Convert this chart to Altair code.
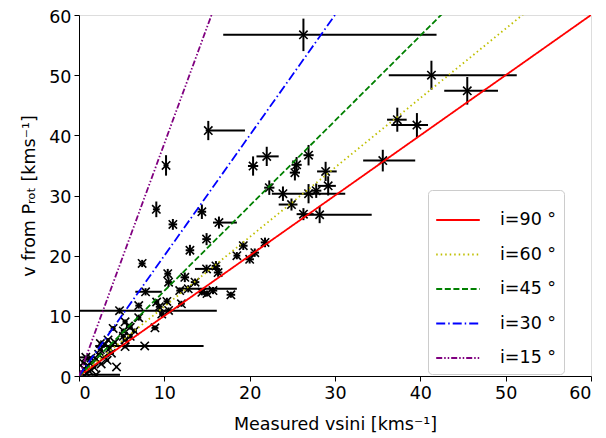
import altair as alt
import pandas as pd

# Measured v sin i (km/s) and v from P_rot (km/s), with errors
vsini = [26.3, 15.15, 10.2, 41.3, 45.5, 37.3, 39.6, 35.6, 20.4, 22.0,
         25.5, 25.3, 26.9, 22.3, 23.9, 26.9, 27.8, 28.9, 29.2, 24.9,
         26.3, 28.2, 9.06, 11.0, 14.4, 16.4, 14.95, 13.0, 7.4, 19.25,
         20.0, 18.5, 20.6, 21.8, 10.4, 10.5, 14.95, 16.05, 16.3, 12.4,
         13.6, 12.8, 14.4, 15.7, 17.8, 7.8, 7.0, 10.3, 9.4, 12.0,
         4.75, 10.5, 7.0, 5.4, 8.9, 4.0, 5.2, 6.0, 5.4, 7.7,
         5.4, 2.5, 3.8, 4.4, 0.8, 2.0, 0.3, 0.6, 1.0, 1.5,
         2.0, 1.2, 2.6, 3.0, 0.5, 1.8, 2.3, 3.3, 1.4, 3.6,
         0.9, 4.2, 3.0, 6.5, 5.8, 9.1, 9.7, 11.8, 15.0, 6.0,
         5.2, 3.4, 2.5]
vsini_err_lo = [9.4, 0.3, 0.3, 5.0, 2.7, 1.2, 3.0, 2.3, 0.6, 1.2,
                0.6, 0.6, 0.6, 0.6, 1.3, 0.6, 0.6, 1.0, 1.2, 1.5,
                0.8, 1.7, 0.4, 0.5, 0.5, 0.7, 0.5, 0.5, 0.4, 0.5,
                0.5, 0.4, 0.5, 0.5, 0.4, 0.4, 1.35, 0.5, 0.5, 0.5,
                0.5, 1.2, 0.4, 0.5, 0.5, 1.2, 0.4, 0.4, 0.4, 0.4,
                4.65, 0.4, 0.3, 0.3, 0.4, 0.3, 0.3, 0.3, 0.3, 5.8,
                0.3, 0.3, 0.3, 0.1, 0.8, 2.0, 0.2, 0.2, 0.2, 0.2,
                0.2, 0.2, 0.2, 0.2, 0.2, 0.2, 0.2, 0.2, 0.2, 0.2,
                0.2, 0.2, 0.2, 0.3, 0.3, 0.3, 0.3, 0.4, 0.4, 0.3,
                0.3, 0.2, 0.2]
vsini_err_hi = [15.6, 4.3, 0.3, 10.0, 3.6, 1.1, 1.3, 3.8, 0.6, 1.4,
                0.6, 0.6, 0.6, 0.6, 7.3, 0.6, 0.6, 1.3, 0.9, 0.7,
                1.2, 6.1, 0.4, 0.5, 0.5, 2.1, 0.5, 0.5, 0.4, 0.5,
                0.5, 0.4, 0.5, 0.5, 0.4, 0.4, 1.55, 0.5, 0.5, 0.5,
                0.5, 5.7, 0.4, 0.5, 0.5, 1.9, 0.4, 0.4, 0.4, 0.4,
                11.4, 0.4, 0.3, 0.3, 0.4, 0.3, 0.3, 0.3, 0.3, 6.9,
                0.3, 0.3, 0.3, 0.1, 1.1, 2.8, 0.2, 0.2, 0.2, 0.2,
                0.2, 0.2, 0.2, 0.2, 0.2, 0.2, 0.2, 0.2, 0.2, 0.2,
                0.2, 0.2, 0.2, 0.3, 0.3, 0.3, 0.3, 0.4, 0.4, 0.3,
                0.3, 0.2, 0.2]
v_prot = [56.7, 40.8, 35.0, 50.0, 47.4, 42.6, 41.7, 35.8, 34.9, 36.5,
          35.1, 33.8, 36.7, 31.3, 30.3, 30.3, 30.8, 34.0, 31.6, 28.5,
          26.9, 26.8, 27.7, 25.2, 27.3, 25.5, 22.75, 20.9, 18.7, 21.65,
          19.4, 20.0, 20.5, 22.2, 17.0, 15.6, 17.8, 18.3, 17.2, 16.4,
          15.6, 14.5, 13.9, 14.2, 13.5, 14.0, 11.7, 12.4, 11.5, 12.0,
          10.85, 10.9, 9.7, 9.0, 8.0, 7.9, 6.6, 6.6, 6.0, 5.0,
          4.9, 4.4, 3.8, 1.5, 3.1, 0.2, 0.5, 1.2, 1.8, 2.3,
          2.8, 0.8, 2.0, 3.2, 2.2, 1.4, 3.6, 2.6, 3.0, 4.6,
          0.4, 5.6, 5.2, 7.5, 8.3, 12.3, 10.3, 14.2, 13.7, 8.1,
          7.5, 6.0, 5.4]
v_prot_err = [2.7, 1.6, 1.7, 2.4, 2.3, 2.0, 2.0, 1.8, 1.6, 1.6,
              1.3, 1.3, 1.7, 1.2, 1.2, 1.6, 1.2, 1.6, 1.6, 1.0,
              1.0, 1.4, 1.3, 0.9, 1.2, 1.0, 1.0, 0.9, 0.6, 0.7,
              0.7, 0.6, 0.7, 0.8, 0.8, 0.8, 0.7, 0.8, 0.7, 0.8,
              0.6, 0.6, 0.5, 0.6, 0.5, 0.6, 0.5, 0.6, 0.5, 0.5,
              0.5, 0.5, 0.5, 0.4, 0.4, 0.4, 0.4, 0.4, 0.3, 0.2,
              0.3, 0.3, 0.3, 0.2, 0.3, 0.2, 0.2, 0.2, 0.2, 0.2,
              0.2, 0.2, 0.2, 0.2, 0.2, 0.2, 0.2, 0.2, 0.2, 0.2,
              0.2, 0.3, 0.3, 0.4, 0.4, 0.5, 0.5, 0.5, 0.5, 0.4,
              0.4, 0.3, 0.3]

incl_deg = [90, 60, 45, 30, 15]
incl_labels = ["i=90 °", "i=60 °", "i=45 °", "i=30 °", "i=15 °"]
line_colors = ["#ff0000", "#bfbf00", "#008000", "#0000ff", "#800080"]
line_dashes = [[1, 0], [1.5, 3], [6, 2.6], [9, 3, 1.5, 3], [6, 2, 1.5, 2, 1.5, 2]]
x_range = [0, 60]

pts = pd.DataFrame({"x": vsini, "y": v_prot})
pts["xlo"] = [a - b for a, b in zip(vsini, vsini_err_lo)]
pts["xhi"] = [a + b for a, b in zip(vsini, vsini_err_hi)]
pts["ylo"] = [a - b for a, b in zip(v_prot, v_prot_err)]
pts["yhi"] = [a + b for a, b in zip(v_prot, v_prot_err)]

lines = pd.DataFrame([{"incl": d, "label": l, "x": xv}
                      for d, l in zip(incl_deg, incl_labels) for xv in x_range])

FONT = "DejaVu Sans"
xs = alt.Scale(domain=[0, 60], nice=False, zero=False)
ys = alt.Scale(domain=[0, 60], nice=False, zero=False)
ticks = [0, 10, 20, 30, 40, 50, 60]

xaxis = alt.Axis(title="Measured vsini [kms⁻¹]", values=ticks, grid=False,
                 labelFontSize=17.5, titleFontSize=17.5, labelFont=FONT, titleFont=FONT,
                 tickSize=5, labelPadding=3, titlePadding=14, domainColor="black",
                 tickColor="black", labelColor="black", titleColor="black",
                 titleFontWeight="normal")
yaxis = alt.Axis(title="v from Pᵣₒₜ [kms⁻¹]", values=ticks, grid=False,
                 labelFontSize=17.5, titleFontSize=17.5, labelFont=FONT, titleFont=FONT,
                 tickSize=5, labelPadding=3, titlePadding=10, domainColor="black",
                 tickColor="black", labelColor="black", titleColor="black",
                 titleFontWeight="normal", labelOffset=2)

line_chart = alt.Chart(lines).transform_calculate(
    yv="datum.x / sin(datum.incl * PI / 180)"
).mark_line(clip=True, strokeWidth=1.8).encode(
    x=alt.X("x:Q", scale=xs, axis=xaxis),
    y=alt.Y("yv:Q", scale=ys, axis=yaxis),
    color=alt.Color("label:N", sort=incl_labels,
                    scale=alt.Scale(domain=incl_labels, range=line_colors),
                    legend=alt.Legend(title=None, orient="none", legendX=349, legendY=175,
                                      labelFontSize=17.5, labelFont=FONT, labelColor="black",
                                      symbolType="stroke", symbolSize=1900,
                                      symbolStrokeWidth=1.8, rowPadding=2.5,
                                      padding=7, fillColor="white",
                                      strokeColor="#cccccc", cornerRadius=4,
                                      labelOffset=19)),
    strokeDash=alt.StrokeDash("label:N", sort=incl_labels,
                              scale=alt.Scale(domain=incl_labels, range=line_dashes),
                              legend=alt.Legend(title=None)),
    detail="incl:Q",
)

xerr = alt.Chart(pts).mark_rule(color="black", strokeWidth=2, clip=True).encode(
    x=alt.X("xlo:Q", scale=xs), x2="xhi:Q", y=alt.Y("y:Q", scale=ys))
yerr = alt.Chart(pts).mark_rule(color="black", strokeWidth=2, clip=True).encode(
    x=alt.X("x:Q", scale=xs), y=alt.Y("ylo:Q", scale=ys), y2="yhi:Q")
marks = alt.Chart(pts).mark_point(
    shape="M-1,-1L1,1M-1,1L1,-1", size=70, filled=False, color="black",
    strokeWidth=1.6, opacity=1, clip=True
).encode(x=alt.X("x:Q", scale=xs), y=alt.Y("y:Q", scale=ys))

chart = alt.layer(xerr, yerr, marks, line_chart).properties(
    width=512, height=361,
    autosize=alt.AutoSizeParams(type="none"),
    padding={"left": 71, "top": 7, "right": 7, "bottom": 60},
).configure_view(stroke="black", strokeWidth=1.2).configure(background="white")

chart.save("out.html", embed_options={"renderer": "svg", "actions": False})
